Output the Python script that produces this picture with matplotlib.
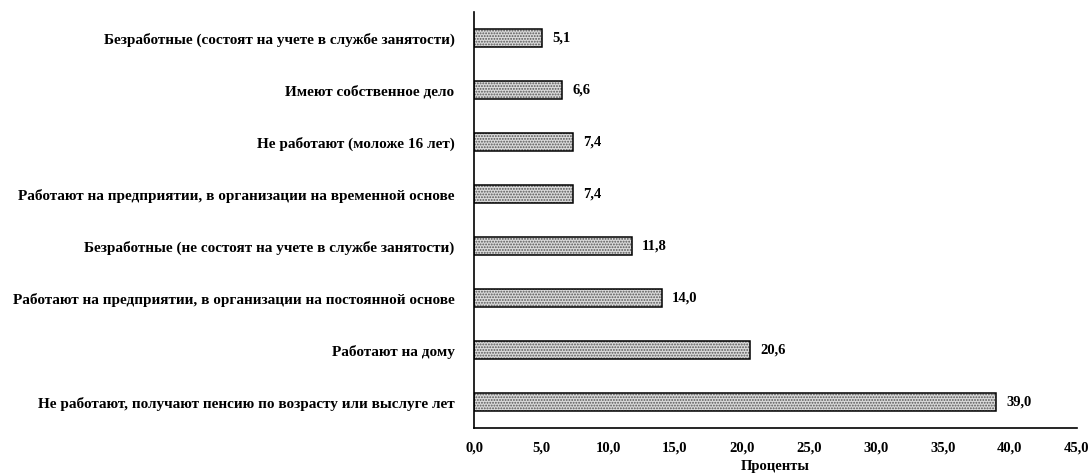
import matplotlib
matplotlib.use("Agg")
import matplotlib.pyplot as plt

categories = [
    "Не работают, получают пенсию по возрасту или выслуге лет",
    "Работают на дому",
    "Работают на предприятии, в организации на постоянной основе",
    "Безработные (не состоят на учете в службе занятости)",
    "Работают на предприятии, в организации на временной основе",
    "Не работают (моложе 16 лет)",
    "Имеют собственное дело",
    "Безработные (состоят на учете в службе занятости)",
]
values = [39.0, 20.6, 14.0, 11.8, 7.4, 7.4, 6.6, 5.1]
xticks = [0, 5, 10, 15, 20, 25, 30, 35, 40, 45]

plt.rcParams["font.family"] = ["Liberation Serif", "DejaVu Serif"]
plt.rcParams["font.weight"] = "bold"
plt.rcParams["hatch.linewidth"] = 0.9

fig = plt.figure(figsize=(10.91, 4.73), dpi=100)
ax = fig.add_axes([0.4345, 0.0951, 0.9870 - 0.4345, 0.9746 - 0.0951])

pos = list(range(len(categories)))
h = 0.36
# dotted fill
ax.barh(pos, values, height=h, color="#dadada", edgecolor="#555555",
        hatch="......", linewidth=0)
# outline
ax.barh(pos, values, height=h, fill=False, edgecolor="black", linewidth=1.1)

for p, v in zip(pos, values):
    ax.text(v + 0.75, p, f"{v:.1f}".replace(".", ","), va="center", ha="left",
            fontsize=10.5, fontweight="bold")

ax.set_xlim(0, 45)
ax.set_ylim(-0.5, len(categories) - 0.5)
ax.set_xticks(xticks)
ax.set_xticklabels([f"{t:.1f}".replace(".", ",") for t in xticks],
                   fontsize=10.5, fontweight="bold")
ax.set_yticks(pos)
ax.set_yticklabels(categories, fontsize=11, fontweight="bold")
ax.tick_params(axis="x", length=0, pad=10)
ax.tick_params(axis="y", length=0, pad=14)
ax.set_xlabel("Проценты", fontsize=10.5, fontweight="bold", labelpad=4)

for s in ("top", "right"):
    ax.spines[s].set_visible(False)
ax.spines["left"].set_linewidth(1.2)
ax.spines["bottom"].set_linewidth(1.2)

fig.savefig("out.png", dpi=100)
